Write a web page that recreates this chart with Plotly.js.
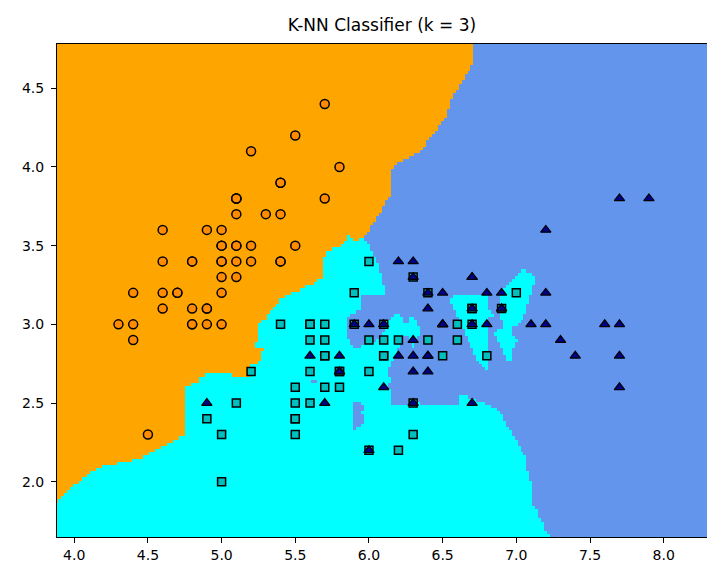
<!DOCTYPE html>
<html>
<head>
<meta charset="utf-8">
<script src="https://cdn.plot.ly/plotly-3.0.1.min.js"></script>
<style>html,body{margin:0;padding:0;background:#fff;}#chart{width:707px;height:567px;}</style>
</head>
<body>
<div id="chart"></div>
<script>
// Iris data: sepal length (x) and sepal width (y)
const setosaX = [5.1,4.9,4.7,4.6,5.0,5.4,4.6,5.0,4.4,4.9,5.4,4.8,4.8,4.3,5.8,5.7,5.4,5.1,5.7,5.1,5.4,5.1,4.6,5.1,4.8,5.0,5.0,5.2,5.2,4.7,4.8,5.4,5.2,5.5,4.9,5.0,5.5,4.9,4.4,5.1,5.0,4.5,4.4,5.0,5.1,4.8,5.1,4.6,5.3,5.0];
const setosaY = [3.5,3.0,3.2,3.1,3.6,3.9,3.4,3.4,2.9,3.1,3.7,3.4,3.0,3.0,4.0,4.4,3.9,3.5,3.8,3.8,3.4,3.7,3.6,3.3,3.4,3.0,3.4,3.5,3.4,3.2,3.1,3.4,4.1,4.2,3.1,3.2,3.5,3.6,3.0,3.4,3.5,2.3,3.2,3.5,3.8,3.0,3.8,3.2,3.7,3.3];
const versicolorX = [7.0,6.4,6.9,5.5,6.5,5.7,6.3,4.9,6.6,5.2,5.0,5.9,6.0,6.1,5.6,6.7,5.6,5.8,6.2,5.6,5.9,6.1,6.3,6.1,6.4,6.6,6.8,6.7,6.0,5.7,5.5,5.5,5.8,6.0,5.4,6.0,6.7,6.3,5.6,5.5,5.5,6.1,5.8,5.0,5.6,5.7,5.7,6.2,5.1,5.7];
const versicolorY = [3.2,3.2,3.1,2.3,2.8,2.8,3.3,2.4,2.9,2.7,2.0,3.0,2.2,2.9,2.9,3.1,3.0,2.7,2.2,2.5,3.2,2.8,2.5,2.8,2.9,3.0,2.8,3.0,2.9,2.6,2.4,2.4,2.7,2.7,3.0,3.4,3.1,2.3,3.0,2.5,2.6,3.0,2.6,2.3,2.7,3.0,2.9,2.9,2.5,2.8];
const virginicaX = [6.3,5.8,7.1,6.3,6.5,7.6,4.9,7.3,6.7,7.2,6.5,6.4,6.8,5.7,5.8,6.4,6.5,7.7,7.7,6.0,6.9,5.6,7.7,6.3,6.7,7.2,6.2,6.1,6.4,7.2,7.4,7.9,6.4,6.3,6.1,7.7,6.3,6.4,6.0,6.9,6.7,6.9,5.8,6.8,6.7,6.7,6.3,6.5,6.2,5.9];
const virginicaY = [3.3,2.7,3.0,2.9,3.0,3.0,2.5,2.9,2.5,3.6,3.2,2.7,3.0,2.5,2.8,3.2,3.0,3.8,2.6,2.2,3.2,2.8,2.8,2.7,3.3,3.2,2.8,3.0,2.8,3.0,2.8,3.8,2.8,2.8,2.6,3.0,3.4,3.1,3.0,3.1,3.1,3.1,2.7,3.2,3.3,3.0,2.5,3.0,3.4,3.0];
const classNames = ['setosa','versicolor','virginica'];
const xTickVals = [4.0,4.5,5.0,5.5,6.0,6.5,7.0,7.5,8.0];
const xTickText = ['4.0','4.5','5.0','5.5','6.0','6.5','7.0','7.5','8.0'];
const yTickVals = [2.0,2.5,3.0,3.5,4.0,4.5];
const yTickText = ['2.0','2.5','3.0','3.5','4.0','4.5'];
const K = 3;
const splitSeed = 1, testSize = 0.3;   // train/test split used to fit the classifier
const meshStep = 0.02;
const meshXMin = 3.88, meshXMax = 8.30, meshYMin = 1.64, meshYMax = 4.80;

// all samples in dataset order
const AX = [], AY = [], AC = [];
[[setosaX,setosaY],[versicolorX,versicolorY],[virginicaX,virginicaY]].forEach((p,c)=>{
  p[0].forEach((v,i)=>{AX.push(v);AY.push(p[1][i]);AC.push(c);});
});

// seeded shuffle split (Mersenne Twister permutation)
function MT(seed){
  const mt=new Uint32Array(624); mt[0]=seed>>>0;
  for(let i=1;i<624;i++){const s=(mt[i-1]^(mt[i-1]>>>30))>>>0; mt[i]=(Math.imul(1812433253,s)+i)>>>0;}
  let idx=624;
  return function(){
    if(idx>=624){
      for(let k=0;k<624;k++){const y=(mt[k]&0x80000000)|(mt[(k+1)%624]&0x7fffffff); mt[k]=(mt[(k+397)%624]^(y>>>1)^((y&1)?0x9908b0df:0))>>>0;}
      idx=0;
    }
    let y=mt[idx++]; y^=y>>>11; y^=(y<<7)&0x9d2c5680; y^=(y<<15)&0xefc60000; y^=y>>>18; return y>>>0;
  };
}
function permutation(seed,n){
  const r=MT(seed), a=[];
  for(let i=0;i<n;i++) a.push(i);
  for(let i=n-1;i>=1;i--){
    let m=i; m|=m>>>1; m|=m>>>2; m|=m>>>4; m|=m>>>8; m|=m>>>16;
    let v; do{v=(r()&m)>>>0;}while(v>i);
    const t=a[i]; a[i]=a[v]; a[v]=t;
  }
  return a;
}
const nAll = AX.length;
const trainIdx = permutation(splitSeed, nAll).slice(Math.ceil(testSize*nAll));

function predict(px,py){
  const best=[];
  for(const n of trainIdx){
    const dx=px-AX[n], dy=py-AY[n], d=dx*dx+dy*dy;
    if(best.length<K || d<best[best.length-1][0]){
      let p=best.length; best.push(null);
      while(p>0 && best[p-1][0]>d){best[p]=best[p-1];p--;}
      best[p]=[d,n];
      if(best.length>K) best.pop();
    }
  }
  const v=[0,0,0]; best.forEach(b=>v[AC[b[1]]]++);
  let c=0; for(let q=1;q<3;q++) if(v[q]>v[c]) c=q;
  return c;
}

const nx = Math.round((meshXMax-meshXMin)/meshStep)+1;
const ny = Math.round((meshYMax-meshYMin)/meshStep)+1;
const gx=[], gy=[];
for(let i=0;i<nx;i++) gx.push(+(meshXMin+i*meshStep).toFixed(4));
for(let j=0;j<ny;j++) gy.push(+(meshYMin+j*meshStep).toFixed(4));
const Z = gy.map(yv => gx.map(xv => predict(xv,yv)));

const traces = [{
  type:'heatmap', x:gx, y:gy, z:Z, zmin:0, zmax:2, zsmooth:false, showscale:false, hoverinfo:'skip',
  colorscale:[[0,'#FFA500'],[0.3333,'#FFA500'],[0.3334,'#00FFFF'],[0.6666,'#00FFFF'],[0.6667,'#6495ED'],[1,'#6495ED']]
},{
  type:'scatter', mode:'markers', name:classNames[0], x:setosaX, y:setosaY,
  marker:{symbol:'circle', size:9, color:'#FF8C00', line:{color:'#000', width:1.5}}
},{
  type:'scatter', mode:'markers', name:classNames[1], x:versicolorX, y:versicolorY,
  marker:{symbol:'square', size:8, color:'#00BFBF', line:{color:'#000', width:1.5}}
},{
  type:'scatter', mode:'markers', name:classNames[2], x:virginicaX, y:virginicaY,
  marker:{symbol:'triangle-up', size:9, color:'#00008B', line:{color:'#000', width:1.2}}
}];

const layout = {
  width:707, height:567, showlegend:false,
  paper_bgcolor:'#fff', plot_bgcolor:'#fff',
  margin:{l:57, r:0, t:44, b:30},
  font:{family:'DejaVu Sans', size:14, color:'#000'},
  title:{text:'K-NN Classifier (k = 3)', font:{family:'DejaVu Sans', size:17, color:'#000'}, xref:'paper', x:0.5, xanchor:'center', yref:'container', y:1-25/567, yanchor:'middle'},
  xaxis:{range:[3.883,8.294], tickvals:xTickVals, ticktext:xTickText,
    ticks:'outside', ticklen:5, tickwidth:1, tickcolor:'#000', showgrid:false, zeroline:false, showline:true, mirror:true, linecolor:'#000', linewidth:1},
  yaxis:{range:[1.649,4.781], tickvals:yTickVals, ticktext:yTickText, ticklabelstandoff:4,
    ticks:'outside', ticklen:5, tickwidth:1, tickcolor:'#000', showgrid:false, zeroline:false, showline:true, linecolor:'#000', linewidth:1}
};
Plotly.newPlot('chart', traces, layout, {displayModeBar:false, staticPlot:true});
</script>
</body>
</html>
